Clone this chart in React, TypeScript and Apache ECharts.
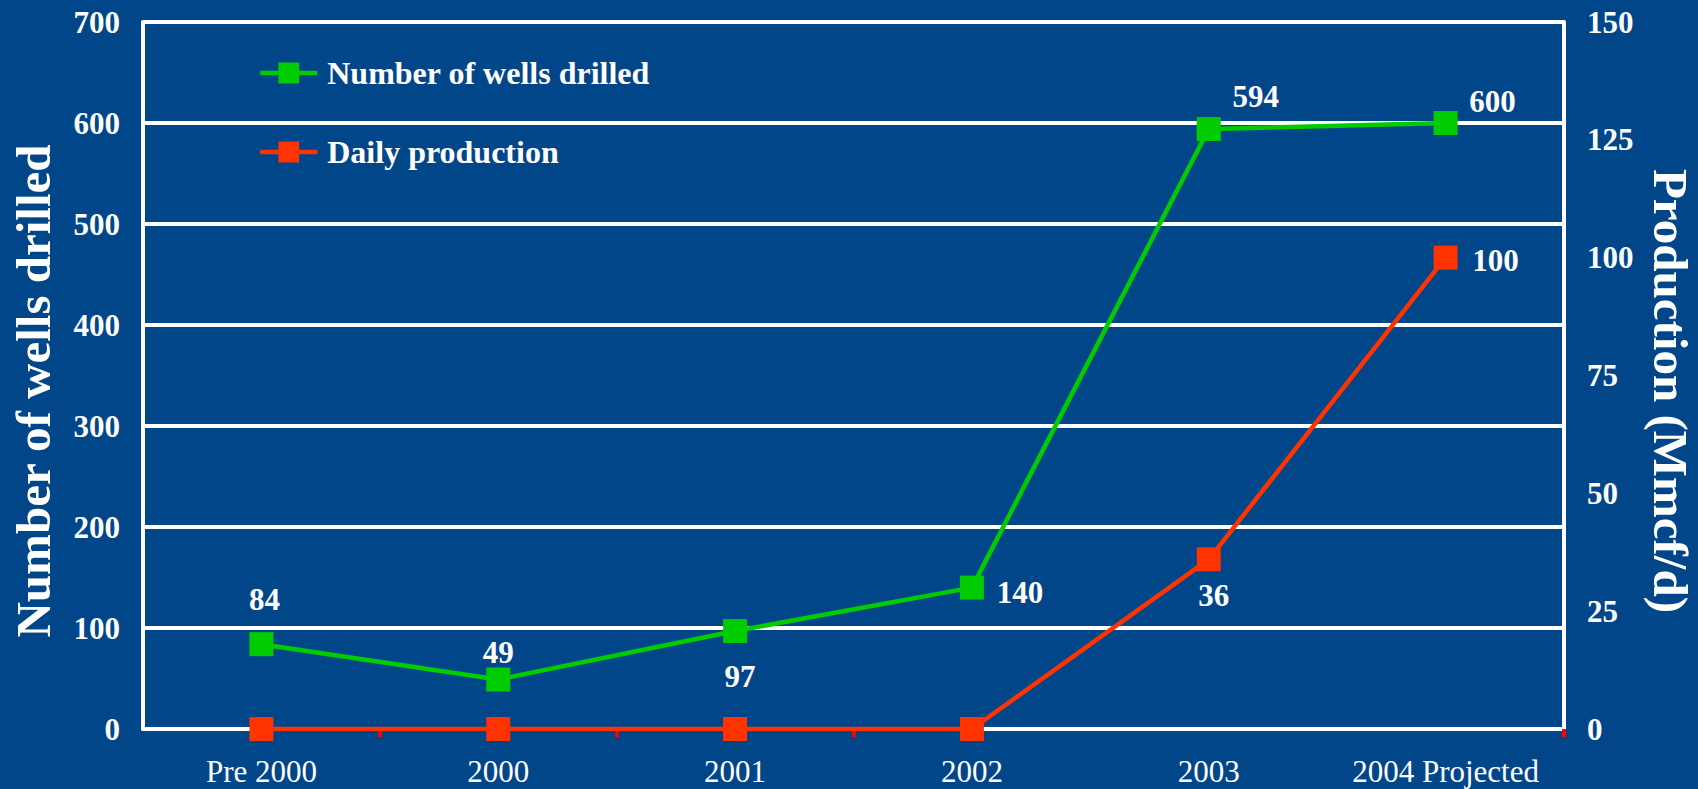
import React, { useEffect, useRef } from "react";
import * as echarts from "echarts";

const categories = ["Pre 2000", "2000", "2001", "2002", "2003", "2004 Projected"];
const wells = [84, 49, 97, 140, 594, 600];
const production = [0, 0, 0, 0, 36, 100];
const leftTicks = { min: 0, max: 700, interval: 100 };
const rightTicks = { min: 0, max: 150, interval: 25 };

const wellsLabelOffsets: [number, number][] = [
  [3, -45],
  [0, -27],
  [5, 45],
  [48, 5],
  [47, -33],
  [47, -22],
];
const productionLabelOffsets: ([number, number] | null)[] = [null, null, null, null, [5, 36], [50, 3]];

const FONT = "'Liberation Serif', 'Times New Roman', serif";
const BG = "#02468a";
const GREEN = "#00cc00";
const RED = "#ff3300";

export default function App() {
  const ref = useRef<HTMLDivElement>(null);
  useEffect(() => {
    document.body.style.margin = "0";
    const chart = echarts.init(ref.current!, null, { renderer: "svg" });
    const labelStyle = {
      color: "#ffffff",
      fontFamily: FONT,
      fontWeight: "bold" as const,
      fontSize: 31,
    };
    chart.setOption({
      animation: false,
      backgroundColor: BG,
      grid: { left: 143, right: 134, top: 22, bottom: 60, containLabel: false },
      legend: {
        orient: "vertical",
        left: 253,
        top: 52,
        itemWidth: 57,
        itemHeight: 26,
        itemGap: 47,
        lineStyle: { width: 4.5 },
        textStyle: { ...labelStyle, fontSize: 32, padding: [0, 0, 0, 5] },
        data: ["Number of wells drilled", "Daily production"],
      },
      xAxis: {
        type: "category",
        data: categories,
        boundaryGap: true,
        axisLine: { show: true, lineStyle: { color: "#ffffff", width: 4 } },
        axisTick: {
          show: true,
          interval: (i: number) => i >= 1 && i <= 3,
          length: 8,
          lineStyle: { color: "#ff0000", width: 4 },
        },
        axisLabel: {
          color: "#ffffff",
          fontFamily: FONT,
          fontSize: 31,
          margin: 27,
          interval: 0,
        },
        splitLine: { show: false },
      },
      yAxis: [
        {
          type: "value",
          ...leftTicks,
          position: "left",
          axisLine: { show: true, lineStyle: { color: "#ffffff", width: 4 } },
          axisTick: { show: false },
          axisLabel: { ...labelStyle, margin: 23 },
          splitLine: { show: true, lineStyle: { color: "#ffffff", width: 4 } },
        },
        {
          type: "value",
          ...rightTicks,
          position: "right",
          axisLine: { show: true, lineStyle: { color: "#ffffff", width: 4 } },
          axisTick: { show: false },
          axisLabel: { ...labelStyle, margin: 23 },
          splitLine: { show: false },
        },
      ],
      graphic: [
        {
          type: "text",
          x: 33,
          y: 391,
          rotation: Math.PI / 2,
          style: {
            text: "Number of wells drilled",
            fill: "#ffffff",
            font: `bold 49px ${FONT}`,
            align: "center",
            verticalAlign: "middle",
          },
        },
        {
          type: "text",
          x: 1670,
          y: 391,
          rotation: -Math.PI / 2,
          style: {
            text: "Production (Mmcf/d)",
            fill: "#ffffff",
            font: `bold 49px ${FONT}`,
            align: "center",
            verticalAlign: "middle",
          },
        },
      ],
      series: [
        {
          name: "Daily production",
          type: "line",
          yAxisIndex: 1,
          symbol: "rect",
          symbolSize: 24,
          lineStyle: { color: RED, width: 4.5 },
          itemStyle: { color: RED },
          z: 3,
          data: production.map((v, i) => {
            const off = productionLabelOffsets[i];
            return {
              value: v,
              label: off
                ? { show: true, position: "inside", offset: off, ...labelStyle, formatter: String(v) }
                : { show: false },
            };
          }),
        },
        {
          name: "Number of wells drilled",
          type: "line",
          yAxisIndex: 0,
          symbol: "rect",
          symbolSize: 24,
          lineStyle: { color: GREEN, width: 4.5 },
          itemStyle: { color: GREEN },
          z: 4,
          data: wells.map((v, i) => ({
            value: v,
            label: {
              show: true,
              position: "inside",
              offset: wellsLabelOffsets[i],
              ...labelStyle,
              formatter: String(v),
            },
          })),
        },
      ],
    });
    return () => chart.dispose();
  }, []);
  return <div ref={ref} style={{ width: 1698, height: 789 }} />;
}
